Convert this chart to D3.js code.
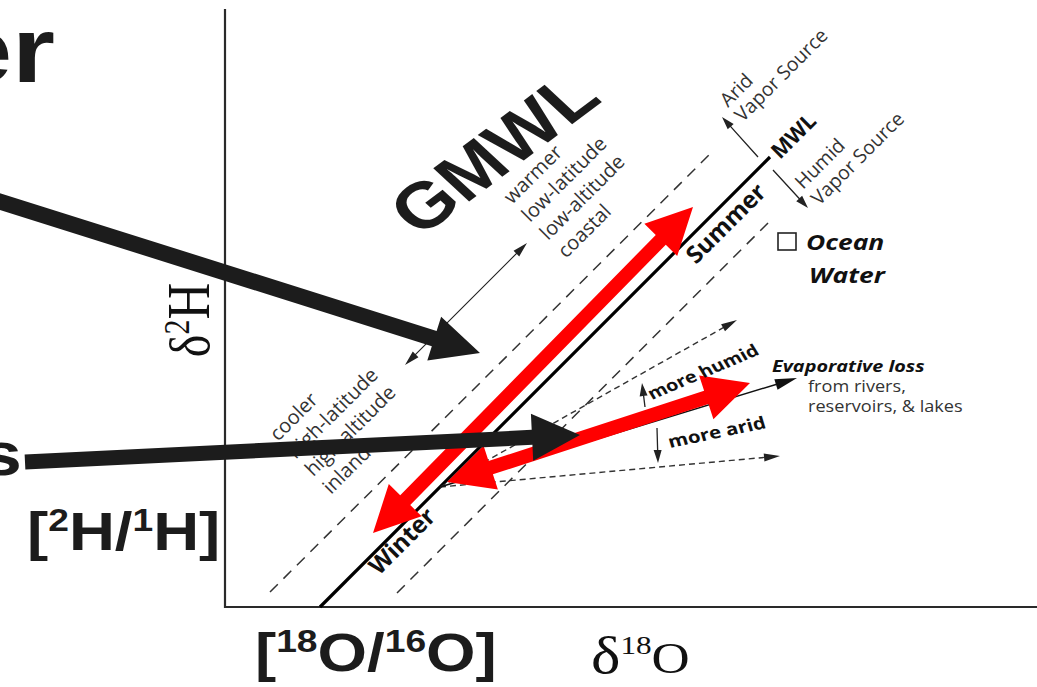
<!DOCTYPE html>
<html>
<head>
<meta charset="utf-8">
<title>MWL diagram</title>
<script src="https://d3js.org/d3.v7.min.js"></script>
<style>
body { margin: 0; background: #fff; }
svg { display: block; }
.small { font-family: "Open Sans", sans-serif; fill: #333; }
.bold { font-family: "Open Sans", sans-serif; font-weight: 700; fill: #111; }
.big { font-family: "Liberation Sans", Arial, sans-serif; font-weight: 700; fill: #1c1c1c; }
.serif { font-family: "Liberation Serif", "Times New Roman", serif; fill: #111; }
</style>
</head>
<body>
<script>
// diagram units: d18O to the right, d2H upwards (arbitrary, origin at the axes corner)
var mwl = [[95, 0], [545, 450]];
var bandUpper = [[45, 15], [487, 455]];
var bandLower = [[172, 14], [548, 389]];
var evapLine = [[215, 120], [572, 229]];
var evapHumid = [[215, 120], [512, 287]];
var evapArid = [[215, 120], [555, 151]];
var climateSpan = [[180, 242], [302, 364]];
var vaporArid = [[533, 450], [497, 490]];
var vaporHumid = [[548, 437], [583, 399]];
var humidTick = [[420, 200], [417, 224]];
var aridTick = [[432, 179], [433, 144]];
var seasonArrow = [[148, 74], [468, 400]];
var evapArrow = [[222, 125], [525, 224]];
var pointerTop = [[-230, 407], [255, 254]];
var pointerBottom = [[-200, 145], [355, 172]];

var warmLines = ["warmer", "low-latitude", "low-altitude", "coastal"];
var coolLines = ["cooler", "high-latitude", "high-altitude", "inland"];
var aridLines = ["Arid", "Vapor Source"];
var humidLines = ["Humid", "Vapor Source"];
var evapLines = ["from rivers,", "reservoirs, &  lakes"];

var width = 1037, height = 687;

var svg = d3.select("body").append("svg")
  .attr("width", width).attr("height", height);

var x = d3.scaleLinear().domain([0, 812]).range([225, 1037]);
var y = d3.scaleLinear().domain([0, 598]).range([607, 9]);

var line = d3.line().x(function(d){ return x(d[0]); }).y(function(d){ return y(d[1]); });

// arrow polygon in screen space
function arrow(pts, shaft, headL, headW, both) {
  var x1 = x(pts[0][0]), y1 = y(pts[0][1]), x2 = x(pts[1][0]), y2 = y(pts[1][1]);
  var dx = x2 - x1, dy = y2 - y1, L = Math.hypot(dx, dy);
  var ux = dx / L, uy = dy / L, nx = -uy, ny = ux;
  function p(s, t) { return [x1 + ux * s + nx * t, y1 + uy * s + ny * t]; }
  var e = L - headL, out = [];
  if (both) out.push(p(0, 0), p(headL, headW / 2), p(headL, shaft / 2));
  else out.push(p(0, shaft / 2));
  out.push(p(e, shaft / 2), p(e, headW / 2), p(L, 0), p(e, -headW / 2), p(e, -shaft / 2));
  if (both) out.push(p(headL, -shaft / 2), p(headL, -headW / 2));
  else out.push(p(0, -shaft / 2));
  return d3.line()(out) + "Z";
}

// axes
svg.append("path").attr("d", line([[0, 598], [0, 0], [812, 0]]))
  .attr("fill", "none").attr("stroke", "#2a2a2a").attr("stroke-width", 2.2);

// GMWL band, MWL
svg.append("path").attr("d", line(bandUpper)).attr("stroke", "#333")
  .attr("stroke-width", 1.5).attr("stroke-dasharray", "11,8").attr("fill", "none");
svg.append("path").attr("d", line(bandLower)).attr("stroke", "#333")
  .attr("stroke-width", 1.5).attr("stroke-dasharray", "11,8").attr("fill", "none");
svg.append("path").attr("d", line(mwl)).attr("stroke", "#000")
  .attr("stroke-width", 3.2).attr("fill", "none");

// evaporation lines
[evapHumid, evapArid].forEach(function(d) {
  svg.append("path").attr("d", line([d[0], [d[1][0] - (d[1][0] - d[0][0]) * 0.03, d[1][1] - (d[1][1] - d[0][1]) * 0.03]]))
    .attr("stroke", "#333").attr("stroke-width", 1.4).attr("stroke-dasharray", "6,4").attr("fill", "none");
  svg.append("path").attr("d", arrow([[d[1][0] - (d[1][0] - d[0][0]) * 0.06, d[1][1] - (d[1][1] - d[0][1]) * 0.06], d[1]], 0, 16, 8, false))
    .attr("fill", "#222");
});
svg.append("path").attr("d", arrow(evapLine, 1.5, 22, 11, false)).attr("fill", "#111");

// thin arrows
svg.append("path").attr("d", arrow(climateSpan, 1.2, 15, 8, true)).attr("fill", "#222");
[vaporArid, vaporHumid, humidTick, aridTick].forEach(function(d) {
  svg.append("path").attr("d", arrow(d, 1.3, 13, 8, false)).attr("fill", "#222");
});

// red arrows
svg.append("path").attr("d", arrow(seasonArrow, 14, 46, 46, true)).attr("fill", "#ff0000");
svg.append("path").attr("d", arrow(evapArrow, 14, 46, 46, true)).attr("fill", "#ff0000");

// labels: sx stretches the text sideways like the source picture
function block(lines, pos, cls, size, lh, angle, sx) {
  var t = svg.append("text").attr("class", cls).style("font-size", size + "px")
    .attr("transform", "translate(" + x(pos[0]) + "," + y(pos[1]) + ") scale(" + (sx || 1) + ",1) rotate(" + angle + ")");
  t.selectAll("tspan").data(lines).enter().append("tspan")
    .attr("x", 0).attr("dy", function(d, i){ return i ? lh : 0; }).text(function(d){ return d; });
  return t;
}
block(warmLines, [287, 402], "small", 20, 25.5, -45);
block(coolLines, [53, 165], "small", 20, 25, -45);
block(aridLines, [503, 499], "small", 19.5, 21, -45);
block(humidLines, [578, 417], "small", 19.5, 23, -45);
block(["MWL"], [555, 447], "bold", 21.5, 0, -45);
block(["Summer"], [471, 342], "bold", 24, 0, -45);
block(["Winter"], [154, 31], "bold", 24, 0, -45);
block(["more humid"], [427, 207], "bold", 16.5, 0, -27, 1.2);
block(["more arid"], [445, 159], "bold", 17, 0, -14, 1.2);

// ocean water
svg.append("rect").attr("x", x(553)).attr("y", y(374)).attr("width", 18).attr("height", 17)
  .attr("fill", "none").attr("stroke", "#222").attr("stroke-width", 1.6);
block(["Ocean"], [581, 357], "bold", 22, 0, 0, 1.2).style("font-style", "italic");
block(["Water"], [584, 324], "bold", 22, 0, 0, 1.2).style("font-style", "italic");

// evaporative loss
block(["Evaporative loss"], [547, 235], "bold", 16.5, 0, 0, 1.2).style("font-style", "italic");
block(evapLines, [583, 215], "small", 15.5, 20, 0, 1.17);

// GMWL
svg.append("text").attr("class", "big").style("font-size", "65px")
  .attr("text-anchor", "middle")
  .attr("transform", "translate(" + x(268) + "," + y(455) + ") scale(1.2,1) rotate(-42)")
  .attr("dy", "0.36em").text("GMWL");

// axis titles
var yt = svg.append("text").attr("class", "serif").attr("text-anchor", "middle")
  .attr("transform", "translate(" + x(-16) + "," + y(287) + ") scale(1.2,1) rotate(-90)");
yt.append("tspan").style("font-size", "48px").text("\u03b4");
yt.append("tspan").style("font-size", "30px").attr("dy", -17).text("2");
yt.append("tspan").style("font-size", "51px").attr("dy", 17).text("H");

var xt = svg.append("text").attr("class", "serif")
  .attr("transform", "translate(" + x(366) + "," + y(-66) + ") scale(1.2,1)");
xt.append("tspan").style("font-size", "52px").text("\u03b4");
xt.append("tspan").style("font-size", "26px").attr("dy", -19).text("18");
xt.append("tspan").style("font-size", "44px").attr("dy", 19).text("O");

// overlay words and ratio labels
function ratio(parts, px, py, anchor) {
  var t = svg.append("text").attr("class", "big").attr("text-anchor", anchor || "start")
    .attr("transform", "translate(" + px + "," + py + ") scale(1.2,1)");
  parts.forEach(function(p) {
    t.append("tspan").style("font-size", p[1] + "px").attr("dy", p[2]).text(p[0]);
  });
}
ratio([["[", 53, 0], ["2", 31, -19], ["H/", 53, 19], ["1", 31, -19], ["H]", 53, 19]], 27, 550);
ratio([["[", 53, 0], ["18", 31, -19], ["O/", 53, 19], ["16", 31, -19], ["O]", 53, 19]], 255, 671);
ratio([["er", 92, 0]], 55, 82, "end");
ratio([["s", 62, 0]], 22, 475, "end");

// pointer arrows
svg.append("path").attr("d", arrow(pointerTop, 16, 48, 46, false)).attr("fill", "#1c1c1c");
svg.append("path").attr("d", arrow(pointerBottom, 15, 48, 47, false)).attr("fill", "#1c1c1c");
</script>
</body>
</html>
